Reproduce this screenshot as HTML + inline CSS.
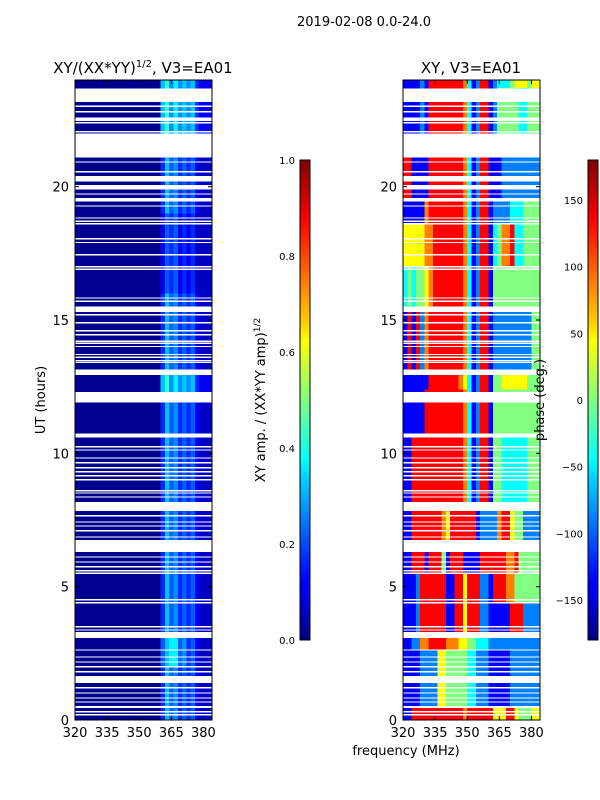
<!DOCTYPE html>
<html><head><meta charset="utf-8"><style>
html,body{margin:0;padding:0;background:#fff}
svg{display:block;font-family:"DejaVu Sans","Liberation Sans",sans-serif}
</style></head><body>
<svg id="fig" width="600" height="800" viewBox="0 0 600 800">
<defs>
<linearGradient id="jet" x1="0" y1="1" x2="0" y2="0">
<stop offset="0" stop-color="#000080"/><stop offset="0.11" stop-color="#0000ff"/>
<stop offset="0.125" stop-color="#0000ff"/><stop offset="0.34" stop-color="#00d4ff"/>
<stop offset="0.375" stop-color="#00ffff"/><stop offset="0.5" stop-color="#80ff80"/>
<stop offset="0.625" stop-color="#ffff00"/><stop offset="0.66" stop-color="#ffd000"/>
<stop offset="0.875" stop-color="#ff0000"/><stop offset="1" stop-color="#800000"/>
</linearGradient>
</defs>
<text x="364" y="26" font-size="13" text-anchor="middle">2019-02-08 0.0-24.0</text>
<text x="143" y="73" font-size="15" text-anchor="middle">XY/(XX*YY)<tspan font-size="10" dy="-6">1/2</tspan><tspan dy="6">, V3=EA01</tspan></text>
<text x="471" y="73" font-size="15" text-anchor="middle">XY, V3=EA01</text>
<g id="leftHeat"></g>
<g id="rightHeat"></g>
<g id="axesG"></g>
<text transform="translate(45,400) rotate(-90)" font-size="13" text-anchor="middle">UT (hours)</text>
<text x="406" y="755" font-size="13" text-anchor="middle">frequency (MHz)</text>
<text transform="translate(265,400) rotate(-90)" font-size="13" text-anchor="middle">XY amp. / (XX*YY amp)<tspan font-size="9" dy="-5">1/2</tspan></text>
<text transform="translate(544,400) rotate(-90)" font-size="13" text-anchor="middle">phase (deg.)</text>
<rect x="300" y="160" width="10" height="480" fill="url(#jet)" stroke="#000" stroke-width="1"/>
<rect x="588" y="160" width="10" height="480" fill="url(#jet)" stroke="#000" stroke-width="1"/>
</svg>
<script>
const freqStart = 320, freqStep = 2, nCols = 32;
const xTicks = [320, 335, 350, 365, 380];
const yTicks = [0, 5, 10, 15, 20];
const ampTicks = [0.0, 0.2, 0.4, 0.6, 0.8, 1.0];
const phaseTicks = [-150, -100, -50, 0, 50, 100, 150];
const ampSegStart = [0, 2.0, 3.1, 12.0, 13.0, 16.0, 19.0, 22.0];
const ampSegEnd   = [2.0, 3.1, 12.0, 13.0, 16.0, 19.0, 22.0, 24.0];
const ampProfiles = [
 "11111111111111111111475645453222",
 "11111111111111111111578856453222",
 "11111111111111111111475645453222",
 "11111111111111111111796867674333",
 "11111111111111111111475645453222",
 "11111111111111111111354534342222",
 "11111111111111111111475645453222",
 "11111111111111111111796867674333"];
const phaseSegStart = [0, 0.5, 2.62, 3.3, 4.4, 5.5, 6.75, 8.1, 10.6, 12.4, 13.1, 15.5, 17.0, 18.6, 19.5, 21.1, 23.7];
const phaseSegEnd   = [0.5, 2.62, 3.3, 4.4, 5.5, 6.3, 7.9, 10.6, 12.4, 13.1, 15.5, 17.0, 18.6, 19.5, 21.1, 23.7, 24];
const phaseProfiles = [
 "1177 7777 7777 7767 7777 7555 7754 4455",
 "1111 2222 5544 4443 3222 1111 1222 2222",
 "1122 6677 7766 6554 4333 2222 2222 2222",
 "1112 7777 7711 7757 7722 1111 1777 2222",
 "1112 7777 7711 7757 7722 1777 6644 4444",
 "1177 7177 7417 7711 1177 7777 6674 4444",
 "1177 7777 7657 7777 7122 2267 7544 2222",
 "1177 7777 7777 7763 1277 1443 3333 3444",
 "1111 1777 7777 7763 1277 1444 4444 4444",
 "1111 1177 7777 7653 1277 1445 5555 5444",
 "1717 2677 7777 7763 1277 1222 2222 2244",
 "3434 4567 7777 7763 1277 1444 4444 4444",
 "5555 5667 7777 7763 1277 1346 6733 4444",
 "1111 1677 7777 7763 1277 1222 2333 4444",
 "7711 1177 7777 7763 1277 1112 2222 2222",
 "1111 2177 7777 7763 1277 1244 4443 3444",
 "1111 2177 7777 7763 1277 1233 3455 5455"];
const gapStart = [23.18,22.98,22.78,22.47,22.36,22.03,21.1,20.9,20.53,20.2,19.9,19.7,19.45,19.25,18.8,18.68,18.58,18.02,17.88,17.42,16.97,16.88,15.8,15.68,15.3,15.17,14.87,14.57,14.42,14.18,14.1,13.98,13.68,13.58,13.45,13.38,12.94,11.9,10.6,10.22,10.1,9.8,9.62,9.43,9.28,9.13,8.98,8.57,8.49,8.34,7.84,7.63,7.4,7.25,7.07,6.84,6.3,6.09,5.9,5.72,5.57,5.48,4.48,4.37,3.47,3.35,3.07,2.6,2.34,2.15,1.97,1.78,1.39,1.18,0.99,0.8,0.65,0.45,0.28,0.17];
const gapEnd   = [23.68,23.04,22.84,22.6,22.42,22.08,22.0,20.95,20.58,20.4,20.06,19.75,19.57,19.3,18.85,18.73,18.63,18.07,17.93,17.47,17.02,16.93,15.85,15.73,15.5,15.22,14.92,14.62,14.47,14.23,14.15,14.03,13.73,13.63,13.5,13.43,13.15,12.3,10.75,10.27,10.15,9.85,9.67,9.48,9.33,9.18,9.03,8.62,8.54,8.39,8.17,7.68,7.45,7.3,7.12,6.89,6.75,6.14,5.95,5.77,5.62,5.53,4.53,4.42,3.52,3.4,3.3,2.65,2.39,2.2,2.02,1.83,1.65,1.23,1.04,0.85,0.7,0.52,0.33,0.22];

const NS = "http://www.w3.org/2000/svg";
const panelTop = 80, panelBot = 720, panelW = 137;
const leftX0 = 75, rightX0 = 403;
function yScale(h){ return panelBot - h * (panelBot - panelTop) / 24; }
function xScale(x0, f){ return x0 + (f - freqStart) * panelW / (nCols * freqStep); }
function clip(v){ return Math.max(0, Math.min(1, v)); }
function jet(t){
  const r = clip(1.5 - Math.abs(4*t - 3)), g = clip(1.5 - Math.abs(4*t - 2)), b = clip(1.5 - Math.abs(4*t - 1));
  return "rgb(" + Math.round(r*255) + "," + Math.round(g*255) + "," + Math.round(b*255) + ")";
}
function ampNorm(d){ return 0.015 + (d - 1) * 0.05; }
function phaseNorm(d){ return ((-180 + d * 45) + 180) / 360; }
function rect(parent, x, y, w, h, fill){
  const r = document.createElementNS(NS, "rect");
  r.setAttribute("x", x); r.setAttribute("y", y); r.setAttribute("width", w); r.setAttribute("height", h);
  r.setAttribute("fill", fill); r.setAttribute("shape-rendering", "crispEdges");
  parent.appendChild(r); return r;
}
function drawHeat(g, x0, starts, ends, profiles, norm, cellName){
  for (let s = 0; s < starts.length; s++){
    const prof = profiles[s].replace(/ /g, "");
    const y1 = yScale(ends[s]), y2 = yScale(starts[s]);
    for (let c = 0; c < nCols; c++){
      const f = freqStart + c * freqStep;
      const xa = xScale(x0, f), xb = xScale(x0, f + freqStep);
      const d = parseInt(prof[c], 10);
      const el = rect(g, xa, y1, xb - xa + 0.3, y2 - y1, jet(norm(d)));
      
      
    }
  }
  for (let i = 0; i < gapStart.length; i++){
    const el = rect(g, x0, yScale(gapEnd[i]), panelW, yScale(gapStart[i]) - yScale(gapEnd[i]), "#fff");
    
    
  }
}
drawHeat(document.getElementById("leftHeat"), leftX0, ampSegStart, ampSegEnd, ampProfiles, ampNorm, 'amp-cell');
drawHeat(document.getElementById("rightHeat"), rightX0, phaseSegStart, phaseSegEnd, phaseProfiles, phaseNorm, 'phase-cell');

const ax = document.getElementById("axesG");
function line(x1,y1,x2,y2){
  const l = document.createElementNS(NS, "line");
  l.setAttribute("x1",x1); l.setAttribute("y1",y1); l.setAttribute("x2",x2); l.setAttribute("y2",y2);
  l.setAttribute("stroke","#000"); l.setAttribute("stroke-width","1");
  ax.appendChild(l); return l;
}
function text(x,y,s,anchor){
  const t = document.createElementNS(NS, "text");
  t.setAttribute("x",x); t.setAttribute("y",y); t.setAttribute("font-size","13");
  t.setAttribute("text-anchor",anchor); t.textContent = s;
  ax.appendChild(t); return t;
}
[leftX0, rightX0].forEach(function(x0, pi){
  const fr = document.createElementNS(NS, "rect");
  fr.setAttribute("x", x0); fr.setAttribute("y", panelTop); fr.setAttribute("width", panelW); fr.setAttribute("height", panelBot - panelTop);
  fr.setAttribute("fill","none"); fr.setAttribute("stroke","#000");
  
  
  ax.appendChild(fr);
  xTicks.forEach(function(v){
    const x = xScale(x0, v);
    line(x, panelBot, x, panelBot - 4); line(x, panelTop, x, panelTop + 4);
    const t = text(x, panelBot + 17, String(v), "middle");
    
    
  });
  yTicks.forEach(function(v){
    const y = yScale(v);
    line(x0, y, x0 + 4, y); line(x0 + panelW, y, x0 + panelW - 4, y);
    const t = text(x0 - 6, y + 5, String(v), "end");
    
    
  });
});
ampTicks.forEach(function(v){
  const y = 640 - v * 480;
  line(300, y, 304, y); line(310, y, 306, y);
  const t = text(295, y + 4, v.toFixed(1), "end");
  t.setAttribute("font-size", "10");
  
  
});
phaseTicks.forEach(function(v){
  const y = 400 - v * 480 / 360;
  line(588, y, 592, y); line(598, y, 594, y);
  const t = text(583, y + 4, String(v).replace("-", "\u2212"), "end");
  t.setAttribute("font-size", "10");
  
  
});
</script>
</body></html>
